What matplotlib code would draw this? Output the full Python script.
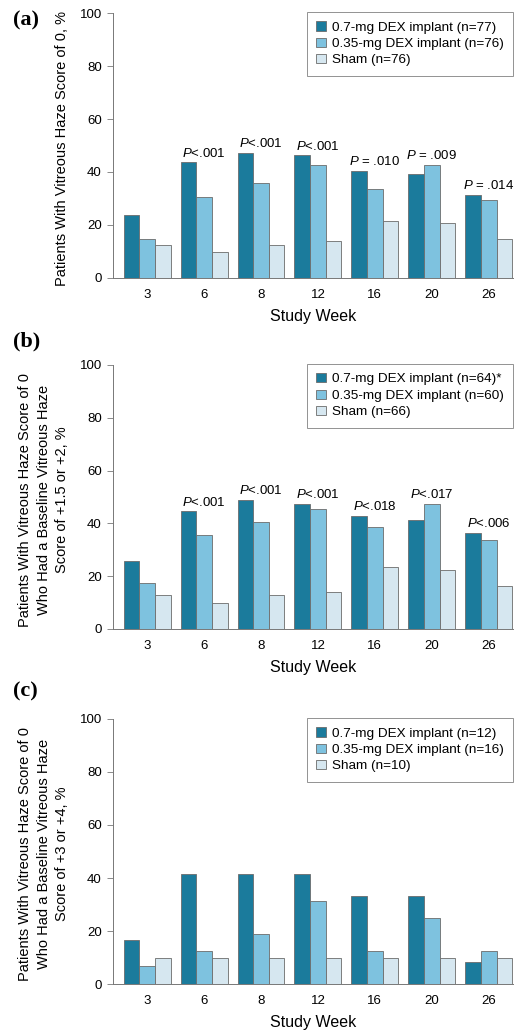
import numpy as np
import matplotlib
matplotlib.use('Agg')
import matplotlib.pyplot as plt

plt.rcParams['font.family'] = ['Liberation Sans', 'DejaVu Sans']
plt.rcParams['mathtext.fontset'] = 'custom'
plt.rcParams['mathtext.it'] = 'Liberation Sans:italic'
plt.rcParams['mathtext.rm'] = 'Liberation Sans'

# data
weeks = ['3', '6', '8', '12', '16', '20', '26']

a_dex07 = [23.7, 43.6, 47.3, 46.3, 40.5, 39.2, 31.5]
a_dex035 = [14.9, 30.6, 35.9, 42.6, 33.4, 42.6, 29.3]
a_sham = [12.4, 9.8, 12.4, 13.9, 21.6, 20.6, 14.9]
a_pvals = ['', '$P$<.001', '$P$<.001', '$P$<.001', '$P$ = .010', '$P$ = .009', '$P$ = .014']
a_legend = ['0.7-mg DEX implant (n=77)', '0.35-mg DEX implant (n=76)', 'Sham (n=76)']

b_dex07 = [25.6, 44.5, 48.9, 47.5, 42.9, 41.4, 36.3]
b_dex035 = [17.3, 35.6, 40.7, 45.6, 38.8, 47.3, 33.8]
b_sham = [13.0, 9.8, 13.0, 14.1, 23.3, 22.2, 16.1]
b_pvals = ['', '$P$<.001', '$P$<.001', '$P$<.001', '$P$<.018', '$P$<.017', '$P$<.006']
b_legend = ['0.7-mg DEX implant (n=64)*', '0.35-mg DEX implant (n=60)', 'Sham (n=66)']

c_dex07 = [16.7, 41.7, 41.7, 41.7, 33.3, 33.3, 8.3]
c_dex035 = [6.8, 12.5, 18.8, 31.3, 12.5, 25.0, 12.5]
c_sham = [10.0, 10.0, 10.0, 10.0, 10.0, 10.0, 10.0]
c_pvals = ['', '', '', '', '', '', '']
c_legend = ['0.7-mg DEX implant (n=12)', '0.35-mg DEX implant (n=16)', 'Sham (n=10)']

colors = ['#1b7b9c', '#7ec2df', '#d6e7f0']
edge = '#6b6b6b'

ylabels = ['Patients With Vitreous Haze Score of 0, %',
           'Patients With Vitreous Haze Score of 0\nWho Had a Baseline Vitreous Haze\nScore of +1.5 or +2, %',
           'Patients With Vitreous Haze Score of 0\nWho Had a Baseline Vitreous Haze\nScore of +3 or +4, %']

panels = [
    ('(a)', a_dex07, a_dex035, a_sham, a_pvals, a_legend, ylabels[0]),
    ('(b)', b_dex07, b_dex035, b_sham, b_pvals, b_legend, ylabels[1]),
    ('(c)', c_dex07, c_dex035, c_sham, c_pvals, c_legend, ylabels[2]),
]

fig = plt.figure(figsize=(5.17, 10.33), dpi=100)
boxes = [[0.2186, 0.7309, 0.774, 0.2565],
         [0.2186, 0.3911, 0.774, 0.2556],
         [0.2186, 0.0474, 0.774, 0.2566]]
letter_y = [0.9806, 0.669, 0.331]

x = np.arange(len(weeks))
w = 0.275

for k, (tag, s1, s2, s3, pv, leg, ylab) in enumerate(panels):
    ax = fig.add_axes(boxes[k])
    for j, vals in enumerate([s1, s2, s3]):
        ax.bar(x + (j - 1) * w, vals, w, color=colors[j], edgecolor=edge,
               linewidth=0.6, label=leg[j], zorder=2)
    for i in range(len(weeks)):
        if pv[i]:
            top = max(s1[i], s2[i], s3[i])
            ax.annotate(pv[i], (x[i], top), xytext=(0, 2), textcoords='offset points',
                        ha='center', va='bottom', fontsize=9.5)
    ax.set_ylim(0, 100)
    ax.set_xlim(-0.6, 6.43)
    ax.set_yticks([0, 20, 40, 60, 80, 100])
    ax.set_xticks(x)
    ax.set_xticklabels(weeks)
    ax.tick_params(axis='x', length=0, labelsize=9.5, pad=8)
    ax.tick_params(axis='y', length=4, width=0.6, color='#777777', labelsize=9.5, pad=4)
    for s in ['top', 'right']:
        ax.spines[s].set_visible(False)
    for s in ['left', 'bottom']:
        ax.spines[s].set_color('#777777')
        ax.spines[s].set_linewidth(0.7)
    ax.set_xlabel('Study Week', fontsize=11.5, labelpad=6)
    ax.set_ylabel(ylab, fontsize=10.5, linespacing=1.4)
    ax.yaxis.set_label_coords(-0.11, 0.49)
    lg = ax.legend(loc='upper right', bbox_to_anchor=(1.0, 1.005), fontsize=9.7,
                   frameon=True, fancybox=False, handlelength=0.7, handleheight=0.7,
                   handletextpad=0.45, labelspacing=0.3, borderpad=0.7, borderaxespad=0.0)
    lg.get_frame().set_edgecolor('#777777')
    lg.get_frame().set_linewidth(0.7)
    fig.text(0.025, letter_y[k], tag, fontsize=16, fontweight='bold',
             family='Liberation Serif', va='center')

plt.savefig('out.png', dpi=100)
